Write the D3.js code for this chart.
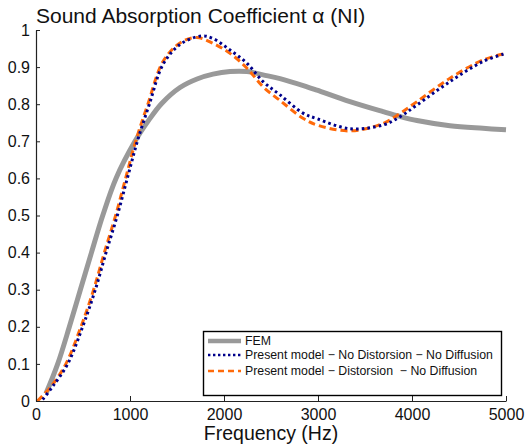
<!DOCTYPE html>
<html>
<head>
<meta charset="utf-8">
<script src="https://cdn.jsdelivr.net/npm/d3@7"></script>
<style>
  html, body { margin: 0; padding: 0; background: #fff; }
  svg { display: block; font-family: "Liberation Sans", Arial, Helvetica, sans-serif; }
  .leg { white-space: pre; }
</style>
</head>
<body>
<svg id="chart" width="527" height="444"></svg>
<script>
// Absorption coefficient vs frequency — FEM reference and two model variants
const femFreq = [106, 231, 355, 472, 590, 710, 851, 1053, 1200, 1337, 1532, 1713, 1883, 2064, 2245, 2415, 2596, 2883, 2989, 3340, 3692, 3872, 4053, 4404, 4755, 5000];
const femAlpha = [0.02, 0.1, 0.2, 0.3, 0.4, 0.5, 0.6, 0.7, 0.757, 0.802, 0.845, 0.868, 0.881, 0.888, 0.888, 0.879, 0.869, 0.847, 0.838, 0.807, 0.78, 0.767, 0.756, 0.742, 0.735, 0.731];

const noDistFreq = [71, 177, 337, 496, 631, 745, 865, 971, 1078, 1206, 1351, 1532, 1762, 1883, 2064, 2245, 2415, 2596, 2840, 2989, 3340, 3692, 3872, 4053, 4404, 4755, 5000];
const noDistAlpha = [0.004, 0.039, 0.1, 0.2, 0.3, 0.4, 0.5, 0.6, 0.7, 0.8, 0.907, 0.961, 0.984, 0.977, 0.946, 0.91, 0.861, 0.825, 0.776, 0.761, 0.734, 0.744, 0.766, 0.798, 0.861, 0.915, 0.937];

const distFreq = [15, 160, 318, 478, 613, 727, 847, 953, 1060, 1190, 1351, 1532, 1709, 1883, 2064, 2245, 2415, 2596, 2840, 2989, 3340, 3692, 3872, 4053, 4404, 4755, 5000];
const distAlpha = [0.0, 0.039, 0.1, 0.2, 0.3, 0.4, 0.5, 0.6, 0.7, 0.8, 0.915, 0.965, 0.98, 0.964, 0.937, 0.897, 0.847, 0.81, 0.762, 0.744, 0.728, 0.748, 0.775, 0.807, 0.87, 0.919, 0.937];

const xTicks = [0, 1000, 2000, 3000, 4000, 5000];
const yTicks = [0, 0.1, 0.2, 0.3, 0.4, 0.5, 0.6, 0.7, 0.8, 0.9, 1];
const seriesNames = ["FEM", "Present model \u2212 No Distorsion \u2212 No Diffusion", "Present model \u2212 Distorsion  \u2212 No Diffusion"];

const svg = d3.select("#chart");
const x = d3.scaleLinear().domain([0, 5000]).range([36, 506]);
const y = d3.scaleLinear().domain([0, 1]).range([401, 30]);

const zip = (fs, as) => fs.map((f, i) => [f, as[i]]);
const line = d3.line().x(d => x(d[0])).y(d => y(d[1])).curve(d3.curveCatmullRom.alpha(0.5));

// curves
svg.append("path").datum(zip(femFreq, femAlpha)).attr("d", line)
  .attr("fill", "none").attr("stroke", "#999999").attr("stroke-width", 5).attr("stroke-linecap", "butt");
svg.append("path").datum(zip(distFreq, distAlpha)).attr("d", line)
  .attr("fill", "none").attr("stroke", "#ff6a0a").attr("stroke-width", 3).attr("stroke-dasharray", "7,4");
svg.append("path").datum(zip(noDistFreq, noDistAlpha)).attr("d", line)
  .attr("fill", "none").attr("stroke", "#00008b").attr("stroke-width", 3).attr("stroke-dasharray", "2.6,3.1");

// axes (ticks point inward)
const xAxis = d3.axisBottom(x).tickValues(xTicks).tickSizeInner(-5).tickSizeOuter(0).tickPadding(8).tickFormat(d3.format("d"));
const yAxis = d3.axisLeft(y).tickValues(yTicks).tickSizeInner(-4).tickSizeOuter(0).tickPadding(6).tickFormat(d => d === 0 || d === 1 ? String(d) : d3.format(".1f")(d));

const gx = svg.append("g").attr("transform", "translate(0,401)").call(xAxis);
const gy = svg.append("g").attr("transform", "translate(36,0)").call(yAxis);
[gx, gy].forEach(g => {
  g.select(".domain").attr("stroke", "#222").attr("stroke-width", 1.2);
  g.selectAll(".tick line").attr("stroke", "#222").attr("stroke-width", 1);
  g.selectAll(".tick text").attr("fill", "#111").style("font-size", "16px").style("font-family", "'Liberation Sans', Arial, sans-serif");
});
gx.selectAll(".tick text").attr("dy", "0.68em");

// title and axis label
svg.append("text").attr("x", 36).attr("y", 23).attr("fill", "#111")
  .style("font-size", "21px").text("Sound Absorption Coefficient \u03b1 (NI)");
svg.append("text").attr("x", 271).attr("y", 440).attr("text-anchor", "middle").attr("fill", "#111")
  .style("font-size", "19.5px").text("Frequency (Hz)");

// legend
const leg = svg.append("g");
leg.append("rect").attr("x", 203.5).attr("y", 331.5).attr("width", 298).attr("height", 64)
  .attr("fill", "#fff").attr("stroke", "#000").attr("stroke-width", 1.4);
const legStyles = [
  { stroke: "#999999", width: 4.5, dash: null },
  { stroke: "#00008b", width: 2.6, dash: "2.4,2.6" },
  { stroke: "#ff6a0a", width: 2.6, dash: "6,4" }
];
const legY = [341, 355, 371];
seriesNames.forEach((name, i) => {
  const s = legStyles[i];
  const l = leg.append("line").attr("x1", 208).attr("x2", 241).attr("y1", legY[i]).attr("y2", legY[i])
    .attr("stroke", s.stroke).attr("stroke-width", s.width);
  if (s.dash) l.attr("stroke-dasharray", s.dash);
  leg.append("text").attr("class", "leg").attr("x", 245).attr("y", legY[i]).attr("dy", "0.35em")
    .attr("fill", "#111").style("font-size", "12.3px").text(name);
});
</script>
</body>
</html>
